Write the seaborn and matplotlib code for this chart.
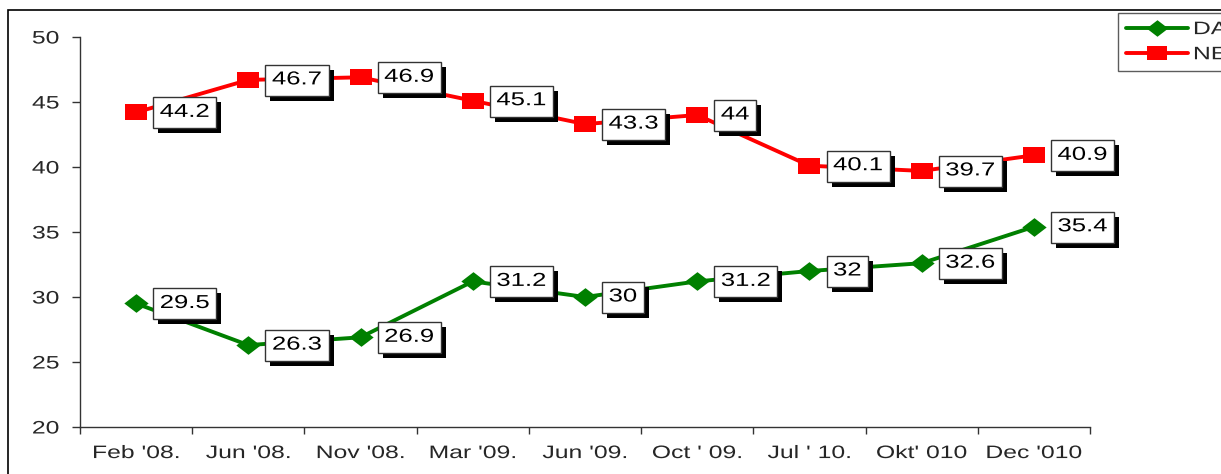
import matplotlib
matplotlib.use("Agg")
import matplotlib.pyplot as plt
import matplotlib.patheffects as pe
from matplotlib.patches import Rectangle
from matplotlib.path import Path
from matplotlib.transforms import Affine2D
from matplotlib.lines import Line2D
import seaborn as sns
import pandas as pd
import numpy as np

categories = ["Feb '08.", "Jun '08.", "Nov '08.", "Mar '09.", "Jun '09.",
              "Oct ' 09.", "Jul ' 10.", "Okt' 010", "Dec '010"]
da_values = [29.5, 26.3, 26.9, 31.2, 30, 31.2, 32, 32.6, 35.4]
ne_values = [44.2, 46.7, 46.9, 45.1, 43.3, 44, 40.1, 39.7, 40.9]
series_names = ["DA", "NE"]
y_ticks = [20, 25, 30, 35, 40, 45, 50]

sns.set_theme(style="white")
plt.rcParams['font.family'] = ['Liberation Sans', 'DejaVu Sans']

SX = 1.37  # horizontal stretch of the glyphs, as in the reference


class StretchX(pe.AbstractPathEffect):
    def __init__(self, sx, anchor="center"):
        super().__init__()
        self.sx = sx
        self.anchor = anchor

    def draw_path(self, renderer, gc, tpath, affine, rgbFace=None):
        ext = tpath.get_extents()
        if self.anchor == "left":
            cx = 0.0
        elif self.anchor == "right":
            cx = ext.x1
        else:
            cx = (ext.x0 + ext.x1) / 2
        aff = Affine2D().translate(-cx, 0).scale(self.sx, 1).translate(cx, 0) + affine
        renderer.draw_path(gc, tpath, aff, rgbFace)


def stretched_box(x0, y0, width, height, mutation_size):
    padx = 6.5
    pady = 7.5
    xl = x0 - padx
    xr = x0 + width * SX + padx
    yb = y0 - pady
    yt = y0 + height + pady - 1
    return Path([(xl, yb), (xr, yb), (xr, yt), (xl, yt), (xl, yb)],
                [Path.MOVETO, Path.LINETO, Path.LINETO, Path.LINETO, Path.CLOSEPOLY])


diamond = Path([(-1.3, 0), (0, 1), (1.3, 0), (0, -1), (-1.3, 0)],
               [Path.MOVETO, Path.LINETO, Path.LINETO, Path.LINETO, Path.CLOSEPOLY])
rect = Path([(-1.44, -1), (1.44, -1), (1.44, 1), (-1.44, 1), (-1.44, -1)],
            [Path.MOVETO, Path.LINETO, Path.LINETO, Path.LINETO, Path.CLOSEPOLY])

idx = list(range(len(categories)))
df = pd.DataFrame({
    "x": idx * 2,
    "value": da_values + ne_values,
    "series": [series_names[0]] * len(idx) + [series_names[1]] * len(idx),
})

fig = plt.figure(figsize=(12.21, 4.74), dpi=100)
ax = fig.add_axes([80/1221, 1-427/474, (1090-80)/1221, (427-37)/474])

palette = {"DA": "#008000", "NE": "#FF0000"}
markers = {"DA": diamond, "NE": rect}
msize = {"DA": 17.5, "NE": 16.5}
sns.lineplot(data=df, x="x", y="value", hue="series", style="series",
             palette=palette, markers=markers, dashes=False, linewidth=2.8,
             markersize=15, markeredgewidth=0, ax=ax, legend=False)
for line in ax.lines:
    lbl = "DA" if tuple(np.round(matplotlib.colors.to_rgb(line.get_color()), 2)) == (0.0, 0.5, 0.0) else "NE"
    line.set_markersize(msize[lbl])

# value labels
for vals in (da_values, ne_values):
    for i, v in enumerate(vals):
        t = ax.annotate(f"{v:g}", xy=(i, v), xytext=(17, 0), textcoords="offset points",
                        ha="left", va="center", fontsize=13.5, color="black",
                        bbox=dict(boxstyle=stretched_box, fc="white", ec="#333333", lw=1))
        t.set_path_effects([StretchX(SX, "left")])
        t.get_bbox_patch().set_path_effects([
            pe.SimplePatchShadow(offset=(3.6, -3.6), shadow_rgbFace="black", alpha=1.0),
            pe.Normal()])

ax.set_xlim(-0.5, len(categories) - 0.5)
ax.set_ylim(20, 50)
ax.set_yticks(y_ticks)
ax.set_yticklabels([str(t) for t in y_ticks], fontsize=13)
ax.set_xticks(np.arange(-0.5, len(categories), 1.0))
ax.set_xticklabels([])
ax.set_xticks(idx, minor=True)
ax.set_xticklabels(categories, minor=True, fontsize=13)
ax.tick_params(axis="x", which="major", direction="out", length=5, width=1, color="#333333", bottom=True)
ax.tick_params(axis="x", which="minor", length=0, pad=13, bottom=True)
ax.tick_params(axis="y", direction="out", length=6, width=1, color="#333333", left=True, pad=9)
for lab in ax.get_xticklabels(minor=True):
    lab.set_path_effects([StretchX(SX, "center")])
for lab in ax.get_yticklabels():
    lab.set_path_effects([StretchX(SX, "right")])
ax.set_xlabel("")
ax.set_ylabel("")
for s in ["top", "right"]:
    ax.spines[s].set_visible(False)
for s in ["left", "bottom"]:
    ax.spines[s].set_color("#333333")
    ax.spines[s].set_linewidth(1)

# legend
handles = [Line2D([], [], color=palette[n], marker=markers[n], lw=2.8,
                  markersize=(msize[n] - 2), markeredgewidth=0) for n in series_names]
leg = fig.legend(handles, series_names, loc="upper left",
                 bbox_to_anchor=(1118/1221, 1-13/474), fontsize=13, frameon=True,
                 fancybox=False, handlelength=3.4, borderpad=0.45, labelspacing=0.45,
                 handletextpad=0.3, borderaxespad=0)
leg.get_frame().set_edgecolor("#333333")
leg.get_frame().set_linewidth(1)
for txt in leg.get_texts():
    txt.set_path_effects([StretchX(SX, "left")])

# outer frame
fig.patches.append(Rectangle((8/1221, -0.1), 1.2, 1 - 10/474 + 0.1, transform=fig.transFigure,
                             fill=False, ec="black", lw=1.2))

fig.savefig("out.png", dpi=100)
